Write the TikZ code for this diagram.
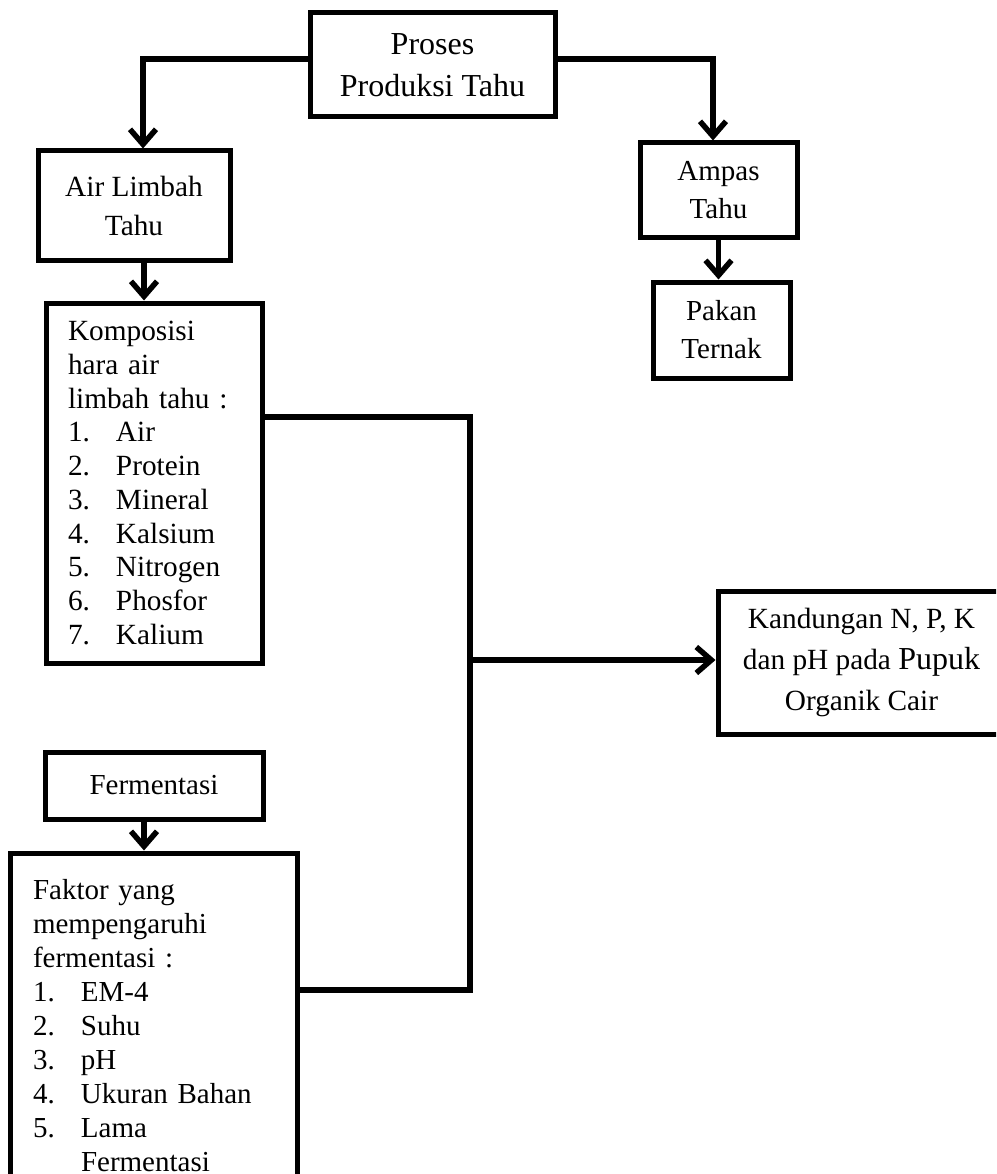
\documentclass[tikz,border=0pt]{standalone}
\usepackage{fontspec}
\setmainfont{Liberation Serif}
\usetikzlibrary{arrows.meta}
\newcommand{\itm}[1]{\makebox[48pt][l]{#1}}
\begin{document}
\begin{tikzpicture}[x=1pt,y=-1pt,
  box/.style={draw, line width=5pt, rectangle, inner sep=0pt,
    font=\fontsize{29.3}{33.7}\selectfont},
  link/.style={line width=5.5pt},
  flow/.style={link, -{Straight Barb[length=15pt,width=26pt]}}]
\useasboundingbox (0,0) rectangle (996,1174);
\clip (0,0) rectangle (996,1174);

% boxes
\node[box, minimum width=245pt, minimum height=104pt, align=center,
  font=\fontsize{32}{42}\selectfont] (prod) at (432.5,65) {Proses\\Produksi Tahu};
\node[box, minimum width=192pt, minimum height=109pt, align=center,
  font=\fontsize{29.3}{39}\selectfont] (air) at (134,205.5) {Air Limbah\\Tahu};
\node[box, minimum width=157pt, minimum height=95pt, align=center,
  font=\fontsize{29}{38}\selectfont] (ampas) at (718.5,190.5) {Ampas\\Tahu};
\node[box, minimum width=137pt, minimum height=96pt, align=center,
  font=\fontsize{29}{38}\selectfont] (pakan) at (721.5,330) {Pakan\\Ternak};
\node[box, minimum width=216pt, minimum height=360pt, text width=172pt, align=left]
  (komp) at (154,483)
  {Komposisi\\hara air\\limbah tahu :\\\itm{1.}Air\\\itm{2.}Protein\\\itm{3.}Mineral\\
   \itm{4.}Kalsium\\\itm{5.}Nitrogen\\\itm{6.}Phosfor\\\itm{7.}Kalium};
\node[box, minimum width=218pt, minimum height=67pt, align=center,
  font=\fontsize{29}{34}\selectfont] (ferm) at (154,785.5) {Fermentasi};
\node[box, minimum width=287pt, minimum height=346pt, text width=241pt, align=left,
  font=\fontsize{29}{34}\selectfont] (faktor) at (153.5,1026)
  {Faktor yang\\mempengaruhi\\fermentasi :\\\itm{1.}EM-4\\\itm{2.}Suhu\\\itm{3.}pH\\
   \itm{4.}Ukuran Bahan\\\itm{5.}Lama\\\itm{}Fermentasi};
\node[box, minimum width=287pt, minimum height=143pt, align=center,
  font=\fontsize{29.3}{41}\selectfont] (kand) at (861.5,662.5)
  {Kandungan N, P, K\\dan pH pada {\fontsize{32}{41}\selectfont Pupuk}\\Organik Cair};

% connectors
\draw[flow] ([yshift=6pt]prod.west) -| (143,0 |- air.north);
\draw[flow] ([yshift=6pt]prod.east) -| (713,0 |- ampas.north);
\draw[flow] (ampas.south) -- (ampas.south |- pakan.north);
\draw[flow] (144,0 |- air.south) -- (144,0 |- komp.north);
\draw[flow] (144,0 |- ferm.south) -- (144,0 |- faktor.north);

\coordinate (ktop) at (470,417);
\coordinate (kbot) at (470,990);
\coordinate (j) at (470,660);
\draw[link] (komp.east |- ktop) -- (ktop) -- (kbot) -- (faktor.east |- kbot);
\draw[flow] (j) -- (kand.west |- j);
\end{tikzpicture}
\end{document}
